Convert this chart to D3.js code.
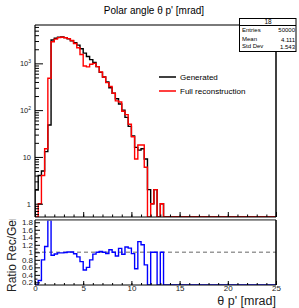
<!DOCTYPE html>
<html>
<head>
<meta charset="utf-8">
<script src="https://cdn.jsdelivr.net/npm/d3@7"></script>
<style>
body { margin: 0; background: #fff; }
svg { display: block; font-family: "Liberation Sans", Arial, Helvetica, sans-serif; }
</style>
</head>
<body>
<div id="chart"></div>
<script>
// theta p' histogram, bins of 1/3 mrad starting at 0 (only the filled bins are listed)
const binWidth = 1 / 3;
const generated = [2, 4, 5, 13, 48, 3150, 3450, 3600, 3650, 3550, 3350, 3050, 2750, 2450, 2050,
    1650, 1400, 1200, 1050, 850, 640, 510, 400, 300, 230, 175, 135, 100, 70, 45,
    28, 16, 14, 15, 9, 2, 1, 2, 0, 1];
const reconstructed = [0, 1, 4, 15, 480, 2900, 3300, 3550, 3600, 3530, 3380, 3080, 2650, 2150, 1540,
    875, 840, 960, 1000, 850, 653, 510, 388, 321, 230, 158, 149, 95, 80, 50,
    27, 9, 18, 18, 6, 0, 1, 2, 0, 1];

const xTicks = [0, 5, 10, 15, 20, 25];
const logTicks = [1, 10, 100, 1000];
const ratioTicks = [0.2, 0.4, 0.6, 0.8, 1, 1.2, 1.4, 1.6, 1.8];
const stats = [["Entries", "50000"], ["Mean", "4.111"], ["Std Dev", "1.543"]];
const legendItems = [["Generated", "#000"], ["Full reconstruction", "#ff0000"]];

const W = 299, H = 308;
const frame = {left: 35, right: 276, top: 25, bottom: 217, rTop: 220, rBottom: 285};

const svg = d3.select("#chart").append("svg")
    .attr("width", W)
    .attr("height", H);

const defs = svg.append("defs");
defs.append("clipPath").attr("id", "topClip").append("rect")
    .attr("x", frame.left).attr("y", frame.top)
    .attr("width", frame.right - frame.left).attr("height", frame.bottom - frame.top);
defs.append("clipPath").attr("id", "ratioClip").append("rect")
    .attr("x", frame.left).attr("y", frame.rTop)
    .attr("width", frame.right - frame.left).attr("height", frame.rBottom - frame.rTop);
defs.append("clipPath").attr("id", "lowPad").append("rect")
    .attr("x", 0).attr("y", 219).attr("width", W).attr("height", H - 219);

const x = d3.scaleLinear().domain([0, 25]).range([frame.left, frame.right]);
const y = d3.scaleLog().domain([0.52, 6600]).range([frame.bottom, frame.top]);
const yr = d3.scaleLinear().domain([0.13, 1.86]).range([frame.rBottom, frame.rTop]).clamp(true);

// step outline like ROOT draws it
function stepPoints(values, yScale, floor)
{
    let pts = [[x(0), yScale(floor)]];
    values.forEach((v, i) => {
        let yy = yScale(Math.max(v, floor));
        pts.push([x(i * binWidth), yy]);
        pts.push([x((i + 1) * binWidth), yy]);
    });
    pts.push([x(values.length * binWidth), yScale(floor)]);
    pts.push([x(25), yScale(floor)]);
    return pts;
}

const line = d3.line();

// ---------- top pad ----------
const topPad = svg.append("g");

topPad.append("text")
    .attr("x", 154).attr("y", 13.5)
    .attr("text-anchor", "middle")
    .attr("font-size", "10px")
    .text("Polar angle θ p' [mrad]");

const plot = topPad.append("g").attr("clip-path", "url(#topClip)");
plot.append("path")
    .attr("d", line(stepPoints(generated, y, 0.52)))
    .attr("fill", "none").attr("stroke", "#000").attr("stroke-width", 1.4);
plot.append("path")
    .attr("d", line(stepPoints(reconstructed, y, 0.52)))
    .attr("fill", "none").attr("stroke", "#ff0000").attr("stroke-width", 1.4);

// axes
topPad.append("g")
    .attr("transform", `translate(0, ${frame.bottom})`)
    .call(d3.axisBottom(x).tickValues(d3.range(0, 26, 1)).tickSize(-2.5).tickFormat(""))
    .call((g) => g.select(".domain").remove());
topPad.append("g")
    .attr("transform", `translate(0, ${frame.bottom})`)
    .call(d3.axisBottom(x).tickValues(xTicks).tickSize(-5).tickFormat(""))
    .call((g) => g.select(".domain").remove());

let minorLog = [];
[0.1, 1, 10, 100, 1000].forEach((d) => {
    for (let k = 2; k <= 9; k++) {
        let v = d * k;
        if (v > 0.52 && v < 6600) minorLog.push(v);
    }
});
topPad.append("g")
    .attr("transform", `translate(${frame.left}, 0)`)
    .call(d3.axisLeft(y).tickValues(minorLog).tickSize(-4).tickFormat(""))
    .call((g) => g.select(".domain").remove());
const yAxisTop = topPad.append("g")
    .attr("transform", `translate(${frame.left}, 0)`)
    .call(d3.axisLeft(y).tickValues(logTicks).tickSize(-8).tickPadding(4).tickFormat(""))
    .call((g) => g.select(".domain").remove());
yAxisTop.selectAll(".tick text").remove();
yAxisTop.selectAll(".tick").append("text")
    .attr("x", -4).attr("dy", "0.35em")
    .attr("text-anchor", "end")
    .attr("fill", "#222")
    .attr("font-size", "7.5px")
    .each(function (d) {
        let t = d3.select(this);
        let p = Math.round(Math.log10(d));
        if (p < 2) { t.text(String(d)); return; }
        t.append("tspan").text("10");
        t.append("tspan").attr("dy", "-0.6em").attr("font-size", "5px").text(p);
    });

// frame
topPad.append("line")
    .attr("x1", frame.left).attr("x2", frame.right).attr("y1", frame.top).attr("y2", frame.top)
    .attr("stroke", "#7a7a7a").attr("stroke-width", 2);
topPad.append("line")
    .attr("x1", frame.left).attr("x2", frame.left).attr("y1", frame.top).attr("y2", frame.bottom)
    .attr("stroke", "#000").attr("stroke-width", 1.2);
topPad.append("line")
    .attr("x1", frame.right).attr("x2", frame.right).attr("y1", frame.top).attr("y2", frame.bottom)
    .attr("stroke", "#000").attr("stroke-width", 1.5);
topPad.append("line")
    .attr("x1", frame.left).attr("x2", frame.right).attr("y1", frame.bottom).attr("y2", frame.bottom)
    .attr("stroke", "#000").attr("stroke-width", 1);

// legend
const legend = topPad.append("g");
legendItems.forEach((d, i) => {
    let ly = 77 + i * 14;
    legend.append("line")
        .attr("x1", 159).attr("x2", 176).attr("y1", ly).attr("y2", ly)
        .attr("stroke", d[1]).attr("stroke-width", 1.5);
    legend.append("text")
        .attr("x", 180).attr("y", ly).attr("dy", "0.35em")
        .attr("font-size", "8px")
        .text(d[0]);
});

// stats box
const box = topPad.append("g");
box.append("rect")
    .attr("x", 239.5).attr("y", 18.5).attr("width", 56.5).attr("height", 33)
    .attr("fill", "#fff").attr("stroke", "#000").attr("stroke-width", 1);
box.append("line")
    .attr("x1", 239.5).attr("x2", 296).attr("y1", 25.5).attr("y2", 25.5)
    .attr("stroke", "#000").attr("stroke-width", 1);
box.append("text")
    .attr("x", 268).attr("y", 24.3).attr("text-anchor", "middle")
    .attr("font-size", "6.5px").text("18");
stats.forEach((d, i) => {
    let by = [31.5, 41, 48][i];
    box.append("text")
        .attr("x", 242).attr("y", by)
        .attr("font-size", "6px").text(d[0]);
    box.append("text")
        .attr("x", 295).attr("y", by + (i > 0 ? 1.3 : 0)).attr("text-anchor", "end")
        .attr("font-size", "6px").text(d[1]);
});

// ---------- ratio pad ----------
const low = svg.append("g").attr("clip-path", "url(#lowPad)");
const ratio = generated.map((g, i) => g > 0 ? reconstructed[i] / g : 0);

const rplot = low.append("g").attr("clip-path", "url(#ratioClip)");
rplot.append("line")
    .attr("x1", x(0)).attr("x2", x(25)).attr("y1", yr(1)).attr("y2", yr(1))
    .attr("stroke", "#999").attr("stroke-width", 1.5).attr("stroke-dasharray", "4,3");
rplot.append("path")
    .attr("d", line(stepPoints(ratio, yr, 0)))
    .attr("fill", "none").attr("stroke", "#0000ff").attr("stroke-width", 1.4);

low.append("g")
    .attr("transform", `translate(0, ${frame.rBottom})`)
    .call(d3.axisBottom(x).tickValues(d3.range(0, 26, 1)).tickSize(-2).tickFormat(""))
    .call((g) => g.select(".domain").remove());
low.append("g")
    .attr("transform", `translate(0, ${frame.rBottom})`)
    .call(d3.axisBottom(x).tickValues(xTicks).tickSize(-4).tickPadding(0.5).tickFormat(d3.format("d")))
    .call((g) => g.select(".domain").remove())
    .call((g) => g.selectAll("text").attr("font-size", "8px").attr("fill", "#222"));

low.append("g")
    .attr("transform", `translate(${frame.left}, 0)`)
    .call(d3.axisLeft(yr).tickValues(d3.range(0.3, 1.85, 0.2)).tickSize(-2.5).tickFormat(""))
    .call((g) => g.select(".domain").remove());
low.append("g")
    .attr("transform", `translate(${frame.left}, 0)`)
    .call(d3.axisLeft(yr).tickValues(ratioTicks).tickSize(-5).tickPadding(2).tickFormat(d3.format("~g")))
    .call((g) => g.select(".domain").remove())
    .call((g) => g.selectAll("text").attr("font-size", "8px").attr("fill", "#222"));

low.append("line")
    .attr("x1", frame.left).attr("x2", frame.right).attr("y1", 219.8).attr("y2", 219.8)
    .attr("stroke", "#7a7a7a").attr("stroke-width", 2);
low.append("line")
    .attr("x1", frame.left).attr("x2", frame.left).attr("y1", frame.rTop).attr("y2", frame.rBottom)
    .attr("stroke", "#000").attr("stroke-width", 1.2);
low.append("line")
    .attr("x1", frame.right).attr("x2", frame.right).attr("y1", frame.rTop).attr("y2", frame.rBottom)
    .attr("stroke", "#000").attr("stroke-width", 1.5);
low.append("line")
    .attr("x1", frame.left).attr("x2", frame.right).attr("y1", frame.rBottom).attr("y2", frame.rBottom)
    .attr("stroke", "#000").attr("stroke-width", 1);

low.append("text")
    .attr("transform", "translate(15.5, 292) rotate(-90)")
    .attr("font-size", "12px").attr("fill", "#222")
    .text("Ratio Rec/Gen");

low.append("text")
    .attr("x", frame.right).attr("y", 305)
    .attr("text-anchor", "end")
    .attr("font-size", "12.5px").attr("fill", "#222")
    .text("θ p' [mrad]");
</script>
</body>
</html>
